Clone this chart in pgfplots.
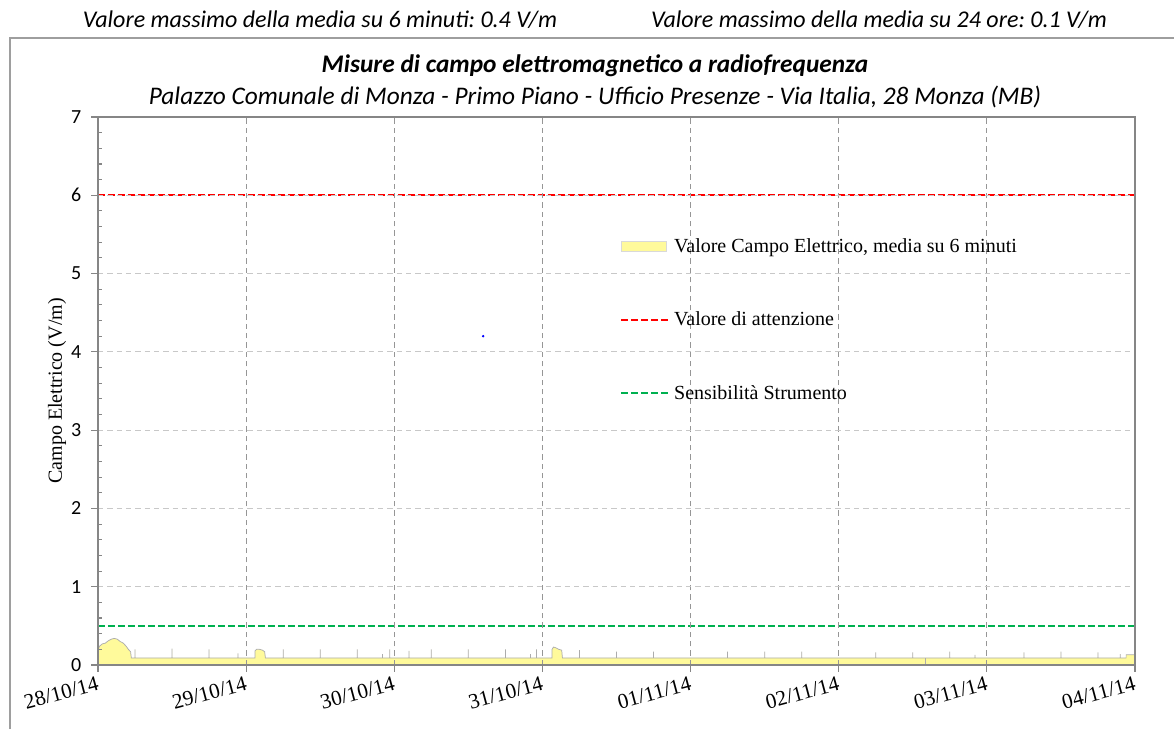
\documentclass[border=0pt]{standalone}
\usepackage{pgfplots}
\pgfplotsset{compat=1.18}
\usepackage{fontspec}
\setmainfont{Liberation Serif}
\newfontfamily\carlito{Carlito}
\definecolor{fillyel}{RGB}{255,250,155}
\definecolor{gridgray}{RGB}{150,150,150}
\definecolor{lightgrid}{RGB}{200,200,200}
\definecolor{axgray}{RGB}{134,134,134}
\definecolor{redl}{RGB}{255,0,0}
\definecolor{greenl}{RGB}{0,176,80}
\pgfplotsset{
  myline/.style={legend image code/.code={\draw[##1] (0pt,0pt) -- (37pt,0pt);}},
  myarea/.style={legend image code/.code={\draw[fill=fillyel, draw=gray!30, line width=0.5pt] (0pt,-3.5pt) rectangle (34pt,3.5pt);}},
}
\begin{document}
\frenchspacing
\begin{tikzpicture}[x=0.75pt,y=0.75pt]
\useasboundingbox (0,0) rectangle (1174,729);
\draw[axgray!80, line width=1.1pt] (10,0) -- (10,691) -- (1174,691);
\node[font=\carlito\itshape\fontsize{18}{20}\selectfont] at (320,709) {Valore massimo della media su 6 minuti: 0.4 V/m};
\node[font=\carlito\itshape\fontsize{18}{20}\selectfont] at (879,709) {Valore massimo della media su 24 ore: 0.1 V/m};
\node[font=\carlito\bfseries\itshape\fontsize{19}{21}\selectfont] at (595,663) {Misure di campo elettromagnetico a radiofrequenza};
\node[font=\carlito\itshape\fontsize{19}{21}\selectfont] at (595,632) {Palazzo Comunale di Monza - Primo Piano - Ufficio Presenze - Via Italia, 28 Monza (MB)};
\begin{axis}[
  at={(73.5pt,48pt)}, anchor=south west,
  width=777.75pt, height=411pt, scale only axis,
  xmin=0, xmax=7, ymin=0, ymax=7,
  xtick={0,1,2,3,4,5,6,7},
  xticklabels={28/10/14,29/10/14,30/10/14,31/10/14,01/11/14,02/11/14,03/11/14,04/11/14},
  ytick={0,1,2,3,4,5,6,7},
  minor y tick num=4,
  xtick pos=bottom, ytick pos=left,
  tick align=inside,
  major tick length=-5pt,
  minor tick length=3pt,
  tick style={axgray, line width=0.8pt},
  axis line style={axgray, line width=0.9pt},
  grid=major,
  x grid style={gridgray, line width=0.6pt, dash pattern=on 4pt off 3pt},
  y grid style={lightgrid, line width=0.6pt, dash pattern=on 4pt off 3pt},
  axis on top,
  /pgf/number format/assume math mode=true,
  yticklabel style={font=\carlito\fontsize{15}{17}\selectfont, xshift=-9pt},
  xticklabel style={font=\fontsize{16}{18}\selectfont, rotate=15, anchor=north east, yshift=-4pt},
  ylabel={Campo Elettrico (V/m)},
  every axis y label/.style={at={(rel axis cs:0,0.5)}, xshift=-30.75pt, rotate=90, anchor=center, font=\fontsize{15}{17}\selectfont},
  legend style={at={(0.503,0.784)}, anchor=north west, draw=none, fill=none,
    font=\fontsize{15}{17}\selectfont, row sep=39.2pt, inner sep=0pt},
  legend cell align=left,
]
\addplot[fill=fillyel, draw=gray!65, line width=0.55pt, myarea]
coordinates {
(0,0) (0,0.19) (0.01,0.24) (0.03,0.27) (0.05,0.28) (0.07,0.31) (0.09,0.33) (0.11,0.34)
(0.13,0.33) (0.15,0.30) (0.17,0.28) (0.19,0.24) (0.205,0.20) (0.22,0.17) (0.225,0.09)
(0.25,0.09) (0.25,0.20) (0.25,0.09)
(0.5,0.09) (0.5,0.21) (0.5,0.09)
(0.75,0.09) (0.75,0.20) (0.75,0.09)
(0.945,0.09) (0.945,0.15) (0.945,0.09)
(1.06,0.09) (1.06,0.18) (1.07,0.20) (1.09,0.20) (1.11,0.19) (1.125,0.17) (1.13,0.09)
(1.25,0.09) (1.25,0.20) (1.25,0.09)
(1.5,0.09) (1.5,0.20) (1.5,0.09)
(1.75,0.09) (1.75,0.20) (1.75,0.09)
(1.92,0.09) (1.92,0.14) (1.92,0.09)
(1.97,0.09) (1.97,0.20) (1.97,0.09)
(2.1,0.09) (2.1,0.18) (2.1,0.09)
(2.25,0.09) (2.25,0.20) (2.25,0.09)
(2.5,0.09) (2.5,0.20) (2.5,0.09)
(2.75,0.09) (2.75,0.20) (2.75,0.09)
(2.92,0.09) (2.92,0.14) (2.92,0.09)
(2.96,0.09) (2.96,0.20) (2.96,0.09)
(3.065,0.09) (3.065,0.20) (3.075,0.23) (3.09,0.22) (3.11,0.20) (3.13,0.19) (3.135,0.09)
(3.25,0.09) (3.25,0.19) (3.25,0.09)
(3.5,0.09) (3.5,0.17) (3.5,0.09)
(3.75,0.09) (3.75,0.17) (3.75,0.09)
(4.25,0.09) (4.25,0.17) (4.25,0.09)
(4.5,0.09) (4.5,0.17) (4.5,0.09)
(4.75,0.09) (4.75,0.17) (4.75,0.09)
(5.25,0.09) (5.25,0.16) (5.25,0.09)
(5.5,0.09) (5.5,0.16) (5.5,0.09)
(5.585,0.09) (5.585,0.0) (5.585,0.09)
(5.75,0.09) (5.75,0.17) (5.75,0.09)
(5.92,0.09) (5.92,0.13) (5.92,0.09)
(6.25,0.09) (6.25,0.16) (6.25,0.09)
(6.5,0.09) (6.5,0.17) (6.5,0.09)
(6.75,0.09) (6.75,0.16) (6.75,0.09)
(6.9,0.09) (6.9,0.14) (6.9,0.09)
(6.94,0.09) (6.94,0.13) (7,0.13) (7,0)
};
\addlegendentry{Valore Campo Elettrico, media su 6 minuti}
\addplot[redl, line width=1.7pt, dash pattern=on 5pt off 2.5pt, myline]
coordinates {(0,6) (7,6)};
\addlegendentry{Valore di attenzione}
\addplot[greenl, line width=1.7pt, dash pattern=on 5pt off 2.5pt, myline]
coordinates {(0,0.5) (7,0.5)};
\addlegendentry{Sensibilità Strumento}
\addplot[only marks, mark=*, mark size=0.7pt, blue, forget plot] coordinates {(2.6,4.2)};
\end{axis}
\end{tikzpicture}
\end{document}
